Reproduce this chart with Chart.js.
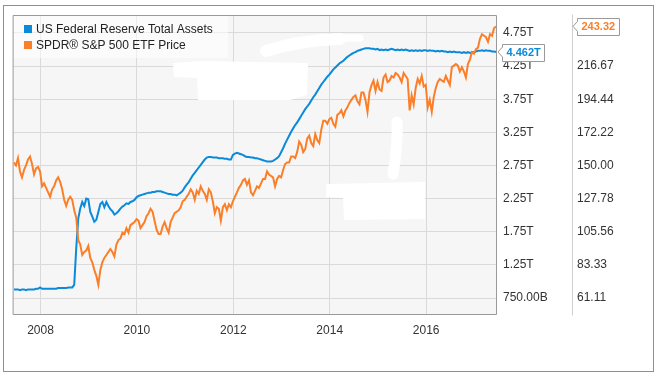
<!DOCTYPE html>
<html>
<head>
<meta charset="utf-8">
<script src="https://cdn.jsdelivr.net/npm/chart.js@4.4.1/dist/chart.umd.min.js"></script>
<style>
  html, body { margin: 0; padding: 0; background: #fff; }
  #wrap { width: 659px; height: 378px; }
</style>
</head>
<body>
<div id="wrap"><canvas id="chart" width="659" height="378"></canvas></div>
<script>
/* --------------- Data (semi-monthly, from mid June 2007) --------------------- */
const seriesStart = 2007.45;
const seriesStep = 1 / 24;

// US Federal Reserve total assets, trillions of USD
const fedAssets = [
  0.88, 0.88, 0.88, 0.87, 0.88, 0.88, 0.87, 0.88, 0.88, 0.88, 0.88, 0.89, 0.89,
  0.91, 0.89, 0.89, 0.89, 0.89, 0.89, 0.89, 0.89, 0.89, 0.90, 0.90, 0.90, 0.90, 0.90, 0.91, 0.91, 0.91, 0.95, 1.50, 1.95, 2.10, 2.20, 2.14, 2.25,
  2.24, 2.05, 1.98, 1.90, 1.93, 2.05, 2.17, 2.20, 2.12, 2.20, 2.14, 2.09, 2.06, 2.01, 2.03, 2.06, 2.10, 2.13, 2.15, 2.18, 2.17, 2.20, 2.21, 2.23,
  2.27, 2.29, 2.30, 2.31, 2.32, 2.33, 2.34, 2.34, 2.35, 2.35, 2.36, 2.36, 2.36, 2.35, 2.34, 2.33, 2.32, 2.32, 2.31, 2.31, 2.30, 2.32, 2.34, 2.37,
  2.42, 2.46, 2.50, 2.55, 2.60, 2.64, 2.68, 2.72, 2.76, 2.80, 2.84, 2.87, 2.88, 2.88, 2.87, 2.87, 2.87, 2.86, 2.86, 2.86, 2.85, 2.85, 2.84, 2.84,
  2.91, 2.93, 2.94, 2.93, 2.92, 2.91, 2.89, 2.88, 2.88, 2.87, 2.87, 2.86, 2.86, 2.85, 2.84, 2.83, 2.82, 2.81, 2.81, 2.81, 2.82, 2.84, 2.86, 2.89,
  2.95, 3.01, 3.08, 3.14, 3.20, 3.26, 3.31, 3.36, 3.40, 3.45, 3.50, 3.55, 3.60, 3.64, 3.68, 3.73, 3.78, 3.82, 3.87, 3.92, 3.97, 4.01, 4.05, 4.09,
  4.12, 4.16, 4.20, 4.23, 4.26, 4.29, 4.31, 4.33, 4.36, 4.39, 4.41, 4.43, 4.45, 4.46, 4.48, 4.49, 4.50, 4.51, 4.52, 4.52, 4.52, 4.51, 4.51, 4.50,
  4.51, 4.49, 4.50, 4.49, 4.50, 4.49, 4.50, 4.51, 4.50, 4.49, 4.50, 4.49, 4.50, 4.49, 4.50, 4.49, 4.48, 4.49, 4.48, 4.49, 4.48, 4.49, 4.48, 4.49,
  4.49, 4.48, 4.49, 4.48, 4.48, 4.47, 4.48, 4.47, 4.48, 4.47, 4.47, 4.46, 4.47, 4.46, 4.47, 4.46, 4.46, 4.46, 4.45, 4.46, 4.45, 4.46, 4.45, 4.46,
  4.46, 4.47, 4.48, 4.48, 4.49, 4.48, 4.49, 4.48, 4.48, 4.47, 4.47, 4.462
];

// SPDR S&P 500 ETF price, USD
const spyPrice = [
  152, 150, 155, 146, 142, 147, 150, 154, 156, 151, 144, 148, 149,
  146, 136, 138, 135, 132, 129, 134, 136, 140, 142, 139, 134, 127, 123, 127, 129, 127, 120, 115, 100, 97, 90, 92, 93,
  96, 88, 85, 80, 76, 70, 80, 85, 88, 90, 92, 94, 92, 89, 97, 100, 101, 105, 104, 108, 105, 110, 111, 112,
  114, 113, 108, 110, 112, 116, 118, 121, 119, 113, 107, 104, 104, 109, 112, 108, 105, 112, 115, 118, 119, 120, 122, 126,
  127, 129, 131, 134, 132, 127, 133, 131, 136, 133, 131, 127, 134, 132, 126, 118, 122, 121, 113, 122, 124, 120, 124, 122,
  126, 129, 132, 135, 137, 140, 141, 137, 140, 132, 130, 133, 136, 135, 138, 141, 141, 146, 144, 143, 142, 136, 141, 143,
  142, 147, 151, 152, 152, 156, 156, 155, 159, 166, 164, 159, 161, 168, 170, 165, 163, 171, 167, 165, 174, 180, 180, 178,
  181, 182, 178, 176, 184, 185, 187, 183, 187, 189, 192, 194, 196, 197, 193, 191, 199, 199, 194, 186, 199, 204, 207, 200,
  206, 201, 200, 209, 211, 206, 207, 210, 209, 212, 211, 209, 206, 212, 210, 208, 187, 197, 191, 202, 208, 205, 210, 203,
  204, 189, 194, 186, 196, 202, 206, 208, 207, 206, 210, 207, 204, 216, 217, 218, 217, 213, 216, 213, 209, 218, 221, 226,
  225, 228, 229, 235, 238, 237, 236, 233, 238, 237, 242, 243.32
];

const seriesNames = ["US Federal Reserve Total Assets", "SPDR® S&P 500 ETF Price"];
const seriesColors = ["#0a8ad9", "#fa7f28"];

/* --------------- Axes --------------------- */
const yearTicks = [2008, 2010, 2012, 2014, 2016];
const assetTicks = [0.75, 1.25, 1.75, 2.25, 2.75, 3.25, 3.75, 4.25, 4.75];
const priceTicks = [61.11, 83.33, 105.56, 127.78, 150.00, 172.22, 194.44, 216.67, 238.89];
const xRange = [2007.43, 2017.47];
const assetRange = [0.494, 5.021];
const priceRange = [49.73, 250.93];

const toPoints = arr => arr.map((v, i) => ({ x: seriesStart + i * seriesStep, y: v }));

/* --------------- Painting helpers --------------------- */
const FONT = '"Liberation Sans", Arial, sans-serif';

function callout(ctx, tipX, y, text, color) {
  ctx.font = "bold 11px " + FONT;
  const w = Math.round(ctx.measureText(text).width) + 8;
  const h = 17;
  const bx = tipX + 4.5;
  const top = Math.round(y - h / 2) + 0.5;
  ctx.beginPath();
  ctx.moveTo(tipX, y);
  ctx.lineTo(bx, y - 5);
  ctx.lineTo(bx, top);
  ctx.lineTo(bx + w, top);
  ctx.lineTo(bx + w, top + h);
  ctx.lineTo(bx, top + h);
  ctx.lineTo(bx, y + 5);
  ctx.closePath();
  ctx.fillStyle = "#fff";
  ctx.fill();
  ctx.strokeStyle = "#9a9a9a";
  ctx.lineWidth = 1;
  ctx.stroke();
  ctx.fillStyle = color;
  ctx.textAlign = "left";
  ctx.textBaseline = "middle";
  ctx.fillText(text, bx + 4, y + 1);
}

// the white marker strokes that cover parts of the original plot
function scribbles(ctx) {
  ctx.fillStyle = "#fff";
  ctx.strokeStyle = "#fff";
  ctx.lineCap = "round";
  ctx.lineJoin = "round";

  ctx.beginPath();
  ctx.moveTo(173, 63); ctx.lineTo(200, 61); ctx.lineTo(308, 63); ctx.lineTo(307, 95);
  ctx.lineTo(290, 100); ctx.lineTo(198, 100); ctx.lineTo(197, 78); ctx.lineTo(174, 77);
  ctx.closePath();
  ctx.fill();

  ctx.lineWidth = 12;
  ctx.beginPath();
  ctx.moveTo(266, 51); ctx.quadraticCurveTo(300, 40, 340, 39);
  ctx.stroke();
  ctx.lineWidth = 7;
  ctx.beginPath();
  ctx.moveTo(335, 38); ctx.lineTo(360, 38);
  ctx.stroke();

  ctx.lineWidth = 11;
  ctx.beginPath();
  ctx.moveTo(397, 122); ctx.quadraticCurveTo(398, 145, 393, 174);
  ctx.stroke();

  ctx.beginPath();
  ctx.moveTo(326, 184); ctx.lineTo(425, 182); ctx.lineTo(425, 219); ctx.lineTo(344, 220);
  ctx.lineTo(343, 198); ctx.lineTo(326, 197);
  ctx.closePath();
  ctx.fill();
}

const decor = {
  id: "decor",
  beforeDraw(chart) {
    const { ctx, chartArea: a, width, height } = chart;
    ctx.save();
    ctx.fillStyle = "#fff";
    ctx.fillRect(0, 0, width, height);
    ctx.strokeStyle = "#8f8f8f";
    ctx.lineWidth = 1;
    ctx.strokeRect(3.5, 5.5, 650, 366);
    ctx.fillStyle = "#f6f6f6";
    ctx.fillRect(a.left, a.top, a.right - a.left, a.bottom - a.top);
    ctx.restore();
  },
  afterDatasetsDraw(chart) {
    const { ctx, chartArea: a, scales } = chart;
    ctx.save();
    scribbles(ctx);

    // frame of the plot and the divider between the two value axes
    ctx.strokeStyle = "#9a9a9a";
    ctx.lineWidth = 1;
    ctx.strokeRect(a.left + 0.5, a.top + 0.5, a.right - a.left - 1, a.bottom - a.top - 1);
    ctx.strokeStyle = "#cfcfcf";
    ctx.beginPath();
    ctx.moveTo(scales.y1.left + 0.5, a.top);
    ctx.lineTo(scales.y1.left + 0.5, a.bottom);
    ctx.stroke();

    // legend
    ctx.fillStyle = "rgba(255,255,255,0.55)";
    ctx.fillRect(a.left + 1, a.top + 1, 214, 42);
    ctx.font = "12px " + FONT;
    ctx.textAlign = "left";
    ctx.textBaseline = "middle";
    chart.data.datasets.forEach((ds, i) => {
      const y = a.top + 14 + i * 16;
      ctx.fillStyle = ds.borderColor;
      ctx.fillRect(a.left + 11, y - 4, 8, 8);
      ctx.fillStyle = "#222";
      ctx.fillText(ds.label, a.left + 23, y + 1);
    });
    ctx.restore();
  },
  afterDraw(chart) {
    const { ctx, chartArea: a, scales } = chart;
    const lastFed = fedAssets[fedAssets.length - 1];
    const lastSpy = spyPrice[spyPrice.length - 1];
    ctx.save();
    callout(ctx, a.right + 1, scales.y.getPixelForValue(lastFed), lastFed.toFixed(3) + "T", seriesColors[0]);
    callout(ctx, scales.y1.left + 1, scales.y1.getPixelForValue(lastSpy), lastSpy.toFixed(2), seriesColors[1]);
    ctx.restore();
  }
};

/* --------------- Chart --------------------- */
Chart.defaults.font.family = FONT;
Chart.defaults.font.size = 12;

new Chart(document.getElementById("chart"), {
  type: "line",
  plugins: [decor],
  data: {
    datasets: [
      {
        label: seriesNames[0],
        data: toPoints(fedAssets),
        yAxisID: "y",
        borderColor: seriesColors[0],
        backgroundColor: seriesColors[0],
        borderWidth: 2,
        pointRadius: 0,
        tension: 0,
        order: 2,
      },
      {
        label: seriesNames[1],
        data: toPoints(spyPrice),
        yAxisID: "y1",
        borderColor: seriesColors[1],
        backgroundColor: seriesColors[1],
        borderWidth: 2,
        pointRadius: 0,
        tension: 0,
        order: 1,
      },
    ],
  },
  options: {
    responsive: false,
    animation: false,
    events: [],
    layout: { padding: { left: 13, top: 15, right: 17, bottom: 0 } },
    plugins: {
      legend: { display: false },
      tooltip: { enabled: false },
    },
    scales: {
      x: {
        type: "linear",
        min: xRange[0],
        max: xRange[1],
        afterBuildTicks: s => { s.ticks = yearTicks.map(v => ({ value: v })); },
        afterFit: s => { s.height = 63; },
        ticks: { color: "#333", padding: 8, maxRotation: 0, callback: v => String(v) },
        grid: { color: "#dadada", drawTicks: false },
        border: { display: false },
      },
      y: {
        position: "right",
        min: assetRange[0],
        max: assetRange[1],
        afterBuildTicks: s => { s.ticks = assetTicks.map(v => ({ value: v })); },
        afterFit: s => { s.width = 75; },
        ticks: {
          color: "#333",
          padding: 6,
          callback: v => v < 1 ? (v * 1000).toFixed(2) + "B" : v.toFixed(2) + "T",
        },
        grid: { color: "#dadada", drawTicks: false },
        border: { display: false },
      },
      y1: {
        position: "right",
        min: priceRange[0],
        max: priceRange[1],
        afterBuildTicks: s => { s.ticks = priceTicks.map(v => ({ value: v })); },
        afterFit: s => { s.width = 70; },
        ticks: { color: "#333", padding: 5, callback: v => v.toFixed(2) },
        grid: { display: false, drawTicks: false },
        border: { display: false },
      },
    },
  },
});
</script>
</body>
</html>
